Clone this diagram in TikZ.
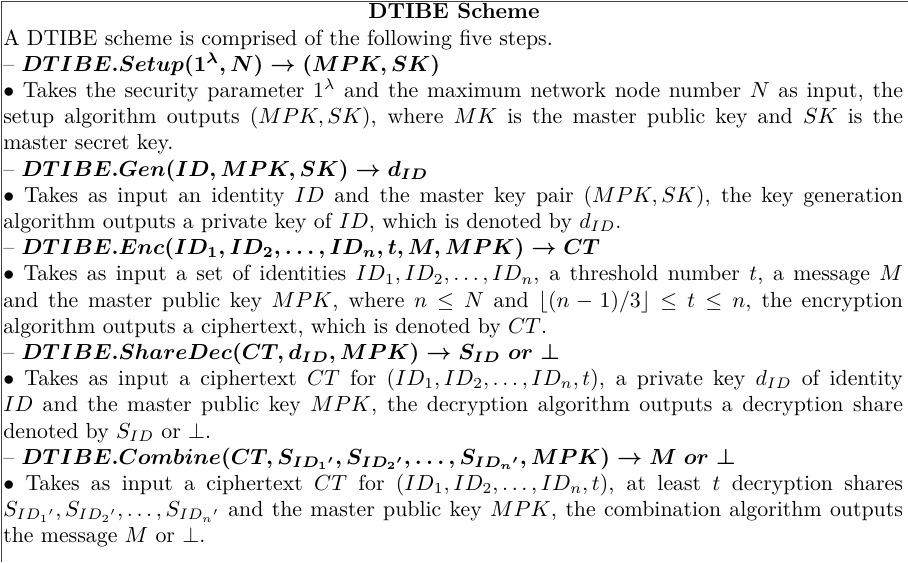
\documentclass[tikz,border=0pt]{standalone}
\usepackage{amsmath,amssymb}
\usetikzlibrary{positioning}

\tikzset{
  frame/.style={draw=black!75, line width=0.5pt},
  bodytext/.style={inner sep=0pt, outer sep=0pt, text width=412.2pt, align=justify,
    font=\fontsize{10}{12}\selectfont},
  titletext/.style={inner sep=0pt, outer sep=0pt, font=\fontsize{10}{12}\selectfont\bfseries}
}

% heading of one step: light dash followed by a bold formula
\newcommand{\stephead}[1]{--\ {\boldmath$#1$}}

\begin{document}
\begin{tikzpicture}
  \useasboundingbox (0,0) rectangle (416pt,-257.5pt);

  % open table frame: rule along the top and the left side
  \coordinate (bl) at (0.6pt,-257.5pt);
  \coordinate (tl) at (0.6pt,-0.6pt);
  \coordinate (tr) at (416pt,-0.6pt);
  \draw[frame] (bl) -- (tl) -- (tr);

  \node[titletext, anchor=base] (title) at (208pt,-8.7pt) {DTIBE Scheme};

  \node[bodytext, anchor=base west] (body) at (1.5pt,-20.7pt) {%
    \parindent=0pt \tolerance=10000 \emergencystretch=20pt
    A DTIBE scheme is comprised of the following five steps.\par
    \stephead{DTIBE.Setup(1^{\lambda},N)\rightarrow(MPK,SK)}\par
    $\bullet$ Takes the security parameter $1^{\lambda}$ and the maximum network node number $N$ as input, the \linebreak
    setup algorithm outputs $(MPK,SK)$, where $MK$ is the master public key and $SK$ is the \linebreak
    master secret key.\par
    \stephead{DTIBE.Gen(ID,MPK,SK)\rightarrow d_{ID}}\par
    $\bullet$ Takes as input an identity $ID$ and the master key pair $(MPK,SK)$, the key generation \linebreak
    algorithm outputs a private key of $ID$, which is denoted by $d_{ID}$.\par
    \stephead{DTIBE.Enc(ID_1,ID_2,\ldots,ID_n,t,M,MPK)\rightarrow CT}\par
    $\bullet$ Takes as input a set of identities $ID_1,ID_2,\ldots,ID_n$, a threshold number $t$, a message $M$ \linebreak
    and the master public key $MPK$, where $n\le N$ and $\lfloor(n-1)/3\rfloor\le t\le n$, the encryption \linebreak
    algorithm outputs a ciphertext, which is denoted by $CT$.\par
    \stephead{DTIBE.ShareDec(CT,d_{ID},MPK)\rightarrow S_{ID}\ or\ \bot}\par
    $\bullet$ Takes as input a ciphertext $CT$ for $(ID_1,ID_2,\ldots,ID_n,t)$, a private key $d_{ID}$ of identity \linebreak
    $ID$ and the master public key $MPK$, the decryption algorithm outputs a decryption share \linebreak
    denoted by $S_{ID}$ or $\bot$.\par
    \stephead{DTIBE.Combine(CT,S_{ID_1{}'},S_{ID_2{}'},\ldots,S_{ID_n{}'},MPK)\rightarrow M\ or\ \bot}\par
    $\bullet$ Takes as input a ciphertext $CT$ for $(ID_1,ID_2,\ldots,ID_n,t)$, at least $t$ decryption shares \linebreak
    $S_{ID_1{}'},S_{ID_2{}'},\ldots,S_{ID_n{}'}$ and the master public key $MPK$, the combination algorithm outputs \linebreak
    the message $M$ or $\bot$.\par
  };
\end{tikzpicture}
\end{document}
